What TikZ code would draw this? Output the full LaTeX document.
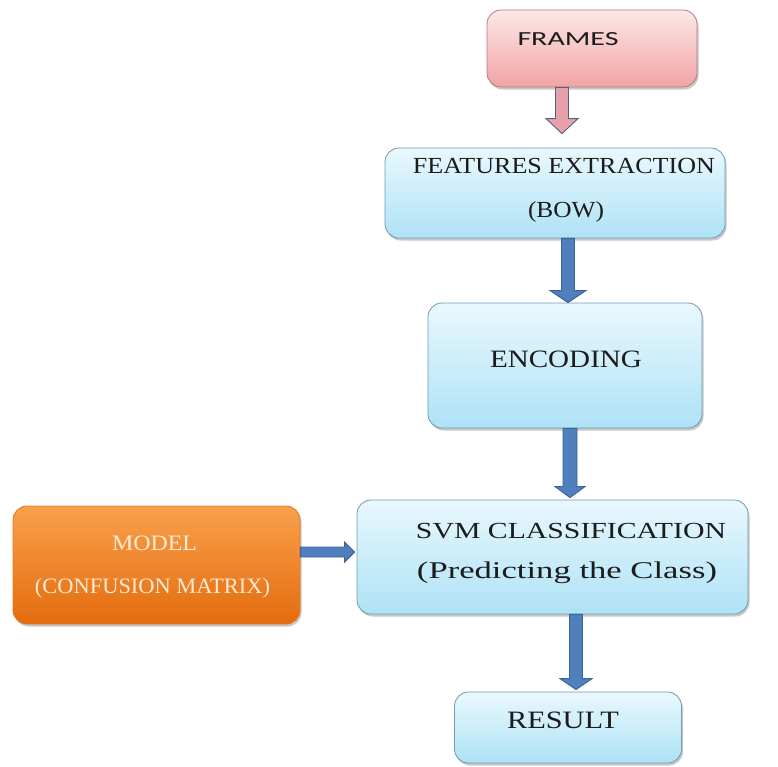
\documentclass[tikz,border=0pt]{standalone}
\usepackage{fontspec}
\usepackage{graphicx}
\setmainfont{Liberation Serif}
\newfontfamily\calib{Carlito}
\usetikzlibrary{calc,shadows}

\definecolor{bluetop}{HTML}{E9F8FD}
\definecolor{bluebot}{HTML}{AEE2F6}
\definecolor{blueedge}{HTML}{6C9DB0}
\definecolor{pinktop}{HTML}{FCE8E8}
\definecolor{pinkbot}{HTML}{F2A3A3}
\definecolor{pinkedge}{HTML}{B77B7B}
\definecolor{orangetop}{HTML}{F9A04C}
\definecolor{orangebot}{HTML}{E46C0E}
\definecolor{orangeedge}{HTML}{E07A20}
\definecolor{arrowfill}{HTML}{4F7FBD}
\definecolor{arrowedge}{HTML}{3B6496}
\definecolor{pinkarrow}{HTML}{E8A1AB}
\definecolor{pinkarrowedge}{HTML}{52627A}
\definecolor{txtdark}{HTML}{1C1C1C}
\definecolor{creamtxt}{HTML}{FDEBD3}

% stretch a line of text horizontally to a given width
\newcommand\fitw[2]{\resizebox{#1}{\height}{#2}}

% downward block arrow: style, start point, tip point, shaft half width, head half width, head length
\newcommand\vblock[6]{%
  \path[#1] let \p1=#2, \p2=#3 in
    (\x1-#4,\y1) -- (\x1-#4,\y2+#6) -- (\x1-#5,\y2+#6) -- (\x1,\y2)
    -- (\x1+#5,\y2+#6) -- (\x1+#4,\y2+#6) -- (\x1+#4,\y1) -- cycle;}
% rightward block arrow
\newcommand\hblock[6]{%
  \path[#1] let \p1=#2, \p2=#3 in
    (\x1,\y1+#4) -- (\x2-#6,\y1+#4) -- (\x2-#6,\y1+#5) -- (\x2,\y1)
    -- (\x2-#6,\y1-#5) -- (\x2-#6,\y1-#4) -- (\x1,\y1-#4) -- cycle;}

\tikzset{
  boxbase/.style={rounded corners=14pt, line width=0.8pt, inner sep=0pt,
    drop shadow={shadow xshift=1.5pt, shadow yshift=-2.5pt, opacity=0.3, fill=black!70}},
  bluebox/.style={boxbase, draw=blueedge, top color=bluetop, bottom color=bluebot},
  pinkbox/.style={boxbase, draw=pinkedge, top color=pinktop, bottom color=pinkbot},
  orangebox/.style={boxbase, draw=orangeedge, top color=orangetop, bottom color=orangebot},
  lbl/.style={inner sep=0pt, anchor=base, text=txtdark},
  blockarrow/.style={draw=arrowedge, fill=arrowfill, line width=0.9pt, line join=miter},
  pinkblockarrow/.style={draw=pinkarrowedge, fill=pinkarrow, line width=0.9pt, line join=miter},
}

\begin{document}
\begin{tikzpicture}[x=1pt,y=-1pt]
  \useasboundingbox (0,0) rectangle (778,766);
  \fill[white] (0,0) rectangle (778,766);

  % boxes
  \node[pinkbox, minimum width=210pt, minimum height=77pt] (frames) at (592,48.5) {};
  \node[bluebox, minimum width=340pt, minimum height=90pt] (feat) at (555,193) {};
  \node[bluebox, minimum width=274pt, minimum height=125pt] (enc) at (565,365.5) {};
  \node[bluebox, minimum width=391pt, minimum height=114pt] (svm) at (552.5,557) {};
  \node[orangebox, minimum width=287pt, minimum height=118pt] (model) at (156.5,565) {};
  \node[bluebox, minimum width=227pt, minimum height=71pt] (result) at (568,727.5) {};

  % texts
  \node[lbl, font=\calib\fontsize{20}{24}\selectfont] (framesT) at (568,45) {\fitw{101pt}{FRAMES}};
  \node[lbl, font=\fontsize{23}{27}\selectfont] (featT1) at (564,173) {\fitw{302pt}{FEATURES EXTRACTION}};
  \node[lbl, font=\fontsize{23}{27}\selectfont] (featT2) at (566,217) {\fitw{76pt}{(BOW)}};
  \node[lbl, font=\fontsize{25}{29}\selectfont] (encT) at (566,367) {\fitw{152pt}{ENCODING}};
  \node[lbl, font=\fontsize{23}{27}\selectfont] (svmT1) at (571,538) {\fitw{310pt}{SVM CLASSIFICATION}};
  \node[lbl, font=\fontsize{24}{28}\selectfont] (svmT2) at (567,578) {\fitw{300pt}{(Predicting the Class)}};
  \node[lbl, text=creamtxt, font=\fontsize{22}{26}\selectfont] (modelT1) at (154.5,550) {\fitw{85pt}{MODEL}};
  \node[lbl, text=creamtxt, font=\fontsize{22}{26}\selectfont] (modelT2) at (152.5,593) {\fitw{235pt}{(CONFUSION MATRIX)}};
  \node[lbl, font=\fontsize{25}{29}\selectfont] (resT) at (563,728) {\fitw{112pt}{RESULT}};

  % arrow axes
  \coordinate (ax1) at (562,0);
  \coordinate (ax2) at (568,0);
  \coordinate (ax3) at (570,0);
  \coordinate (ax4) at (576,0);
  \coordinate (ax5) at (0,552);

  % connectors
  \vblock{pinkblockarrow}{(frames.south -| ax1)}{([yshift=14pt]feat.north -| ax1)}{6.5pt}{16pt}{15pt}
  \vblock{blockarrow}{(feat.south -| ax2)}{(enc.north -| ax2)}{6.5pt}{18pt}{12pt}
  \vblock{blockarrow}{(enc.south -| ax3)}{([yshift=2pt]svm.north -| ax3)}{7pt}{15pt}{11pt}
  \vblock{blockarrow}{(svm.south -| ax4)}{([yshift=2pt]result.north -| ax4)}{6.5pt}{16pt}{11pt}
  \hblock{blockarrow}{(model.east |- ax5)}{([xshift=-2pt]svm.west |- ax5)}{5pt}{10pt}{10pt}
\end{tikzpicture}
\end{document}
